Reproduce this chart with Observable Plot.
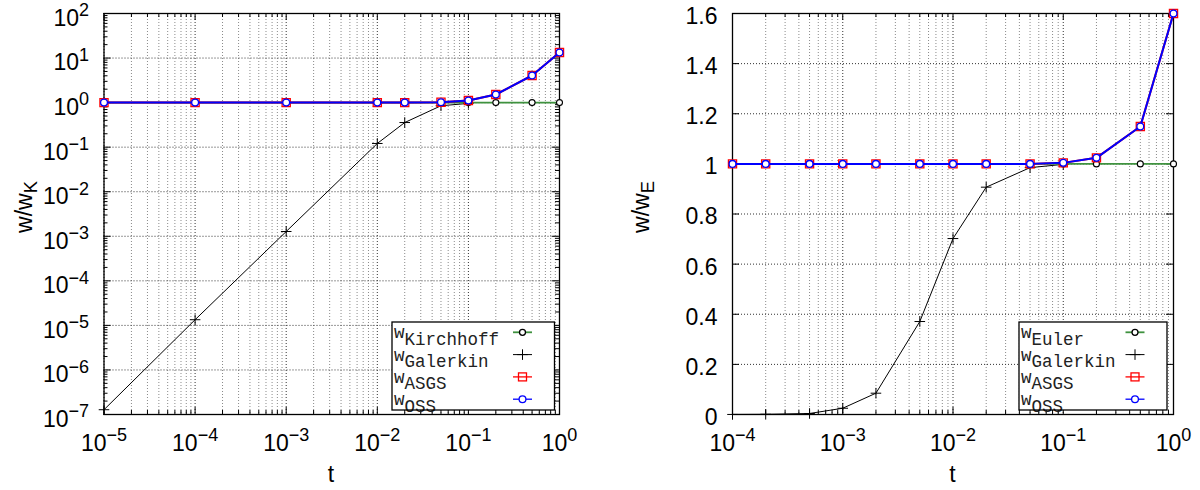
<!DOCTYPE html>
<html><head><meta charset="utf-8">
<script src="https://cdn.jsdelivr.net/npm/d3@7"></script>
<script src="https://cdn.jsdelivr.net/npm/@observablehq/plot@0.6"></script>
<style>
body{margin:0;background:#fff;}
#wrap{position:relative;width:1200px;height:490px;overflow:hidden;background:#fff;font-family:"Liberation Sans",Arial,sans-serif;color:#000;}
.panel{position:absolute;top:0;}
.ylab{position:absolute;font-size:23px;transform:translate(-50%,-50%) rotate(-90deg);white-space:nowrap;line-height:1;}
.xlab{position:absolute;font-size:23px;transform:translate(-50%,-50%);line-height:1;}
.ylab sub{font-size:0.8em;vertical-align:-0.3em;line-height:0;}
</style></head><body><div id="wrap"></div>
<script>
// ---------- data: left panel (w / w_K) ----------
const tLeft = [1e-5, 1e-4, 1e-3, 1e-2, 2e-2, 5e-2, 1e-1, 2e-1, 5e-1, 1];
const wKirchhoff = [1, 1, 1, 1, 1, 1, 1, 1, 1, 1];
const tGalerkinLeft = [1e-5, 1e-4, 1e-3, 1e-2, 2e-2, 5e-2, 1e-1];
const wGalerkinLeft = [1.28e-7, 1.34e-5, 1.28e-3, 0.121, 0.357, 0.85, 0.96];
const wASGSLeft = [1, 1, 1, 1, 1, 1.02, 1.11, 1.52, 4.06, 13.3];
const wOSSLeft = [1, 1, 1, 1, 1, 1.02, 1.11, 1.52, 4.06, 13.3];
const xTicksLeft = [1e-5, 1e-4, 1e-3, 1e-2, 1e-1, 1];
const yTicksLeft = [1e-7, 1e-6, 1e-5, 1e-4, 1e-3, 1e-2, 1e-1, 1, 1e1, 1e2];

// ---------- data: right panel (w / w_E) ----------
const tRight = [1e-4, 2e-4, 5e-4, 1e-3, 2e-3, 5e-3, 1e-2, 2e-2, 5e-2, 1e-1, 2e-1, 5e-1, 1];
const wEuler = [1, 1, 1, 1, 1, 1, 1, 1, 1, 1, 1, 1, 1];
const tGalerkinRight = [1e-4, 2e-4, 5e-4, 1e-3, 2e-3, 5e-3, 1e-2, 2e-2, 5e-2, 1e-1];
const wGalerkinRight = [0.0002, 0.0008, 0.004, 0.025, 0.085, 0.371, 0.702, 0.907, 0.985, 0.998];
const wASGSRight = [1, 1, 1, 1, 1, 1, 1, 1, 1, 1.004, 1.024, 1.149, 1.6];
const wOSSRight = [1, 1, 1, 1, 1, 1, 1, 1, 1, 1.004, 1.024, 1.149, 1.6];
const xTicksRight = [1e-4, 1e-3, 1e-2, 1e-1, 1];
const yTicksRight = [0, 0.2, 0.4, 0.6, 0.8, 1, 1.2, 1.4, 1.6];

const namesLeft = ["Kirchhoff", "Galerkin", "ASGS", "OSS"];
const namesRight = ["Euler", "Galerkin", "ASGS", "OSS"];

const GREEN = "#3f923f", RED = "#ff0000", BLUE = "#0000ff";
const W = 600, H = 490, MT = 13, MB = 76;
const FH = H - MT - MB;

function minorLog(majors) {
  const out = [];
  for (let i = 0; i < majors.length - 1; i++)
    for (let k = 2; k <= 9; k++) out.push(k * majors[i]);
  return out;
}
const rows = (ts, ws) => ts.map((t, i) => ({t, w: ws[i]}));
const powFmt = d => "10^" + Math.round(Math.log10(d));
const linFmt = d => String(Math.round(d * 10) / 10);

function ticks(xMaj, xMin, yMaj, yMin, FW) {
  const s = {stroke: "black", strokeWidth: 1};
  const out = [
    Plot.ruleX(xMaj, {x: d => d, insetTop: FH - 7, ...s}),
    Plot.ruleX(xMaj, {x: d => d, insetBottom: FH - 7, ...s}),
    Plot.ruleX(xMin, {x: d => d, insetTop: FH - 4, ...s}),
    Plot.ruleX(xMin, {x: d => d, insetBottom: FH - 4, ...s}),
    Plot.ruleY(yMaj, {y: d => d, insetRight: FW - 7, ...s}),
    Plot.ruleY(yMaj, {y: d => d, insetLeft: FW - 7, ...s})
  ];
  if (yMin) out.push(
    Plot.ruleY(yMin, {y: d => d, insetRight: FW - 4, ...s}),
    Plot.ruleY(yMin, {y: d => d, insetLeft: FW - 4, ...s})
  );
  return out;
}

function series(ref, gal, asgs, oss) {
  return [
    Plot.line(gal, {x: "t", y: "w", stroke: "black", strokeWidth: 1}),
    Plot.dot(gal, {x: "t", y: "w", symbol: "plus", r: 3.5, stroke: "black", fill: "none", strokeWidth: 1}),
    Plot.line(ref, {x: "t", y: "w", stroke: GREEN, strokeWidth: 1.8}),
    Plot.dot(ref, {x: "t", y: "w", symbol: "circle", r: 3, stroke: "black", fill: "white", strokeWidth: 1.1}),
    Plot.line(asgs, {x: "t", y: "w", stroke: RED, strokeWidth: 2}),
    Plot.dot(asgs, {x: "t", y: "w", symbol: "square", r: 4.6, stroke: RED, fill: "none", strokeWidth: 1.3}),
    Plot.line(oss, {x: "t", y: "w", stroke: BLUE, strokeWidth: 2}),
    Plot.dot(oss, {x: "t", y: "w", symbol: "circle", r: 3.4, stroke: BLUE, fill: "white", strokeWidth: 1.3})
  ];
}

const gridStyleMinor = {stroke: "#8a8a8a", strokeOpacity: 1, strokeWidth: 1, strokeDasharray: "1,2"};
const gridStyleMajor = {stroke: "#333", strokeOpacity: 1, strokeWidth: 1, strokeDasharray: "1,2"};
const style = {fontFamily: "'Liberation Sans', Arial, sans-serif", fontSize: "23px", background: "transparent", overflow: "visible", color: "black"};

// ---------- left panel ----------
const xMinL = minorLog(xTicksLeft), yMinL = minorLog(yTicksLeft);
const FWL = W - 103.5 - 41;
const left = Plot.plot({
  width: W, height: H, marginLeft: 103.5, marginRight: 41, marginTop: MT, marginBottom: MB,
  x: {type: "log", domain: [1e-5, 1]},
  y: {type: "log", domain: [1e-7, 1e2]},
  style,
  marks: [
    Plot.gridX(xMinL, gridStyleMinor),
    Plot.gridX(xTicksLeft, gridStyleMajor),
    Plot.gridY(yTicksLeft, gridStyleMajor),
    ...ticks(xTicksLeft, xMinL, yTicksLeft, yMinL, FWL),
    Plot.frame({stroke: "black", strokeWidth: 1.3}),
    Plot.axisX(xTicksLeft, {tickSize: 0, tickPadding: 20, tickFormat: powFmt, label: null}),
    Plot.axisY(yTicksLeft, {tickSize: 0, tickPadding: 15, tickFormat: powFmt, label: null, dy: 5}),
    ...series(rows(tLeft, wKirchhoff), rows(tGalerkinLeft, wGalerkinLeft), rows(tLeft, wASGSLeft), rows(tLeft, wOSSLeft))
  ]
});

// ---------- right panel ----------
const xMinR = minorLog(xTicksRight);
const FWR = W - 132 - 27;
const right = Plot.plot({
  width: W, height: H, marginLeft: 132, marginRight: 27, marginTop: MT, marginBottom: MB,
  x: {type: "log", domain: [1e-4, 1]},
  y: {type: "linear", domain: [0, 1.6]},
  style,
  marks: [
    Plot.gridX(xMinR, gridStyleMinor),
    Plot.gridX(xTicksRight, gridStyleMajor),
    Plot.gridY(yTicksRight, gridStyleMajor),
    ...ticks(xTicksRight, xMinR, yTicksRight, null, FWR),
    Plot.frame({stroke: "black", strokeWidth: 1.3}),
    Plot.axisX(xTicksRight, {tickSize: 0, tickPadding: 20, tickFormat: powFmt, label: null}),
    Plot.axisY(yTicksRight, {tickSize: 0, tickPadding: 15, tickFormat: linFmt, label: null, dy: 3}),
    ...series(rows(tRight, wEuler), rows(tGalerkinRight, wGalerkinRight), rows(tRight, wASGSRight), rows(tRight, wOSSRight))
  ]
});

// superscripts for 10^n tick labels
const NS = "http://www.w3.org/2000/svg";
for (const svg of [left, right]) {
  for (const t of svg.querySelectorAll("text")) {
    const m = /^10\^(-?\d+)$/.exec(t.textContent);
    if (!m) continue;
    t.textContent = "10";
    const s = document.createElementNS(NS, "tspan");
    s.setAttribute("dy", "-9.5");
    s.setAttribute("font-size", "18");
    s.textContent = m[1].replace("-", "\u2212");
    t.appendChild(s);
  }
}

const wrap = document.getElementById("wrap");
left.classList.add("panel"); left.style.left = "0px";
right.classList.add("panel"); right.style.left = "600px";
wrap.appendChild(left); wrap.appendChild(right);

// axis titles
function addLabel(cls, html, x, y) {
  const d = document.createElement("div");
  d.className = cls; d.innerHTML = html;
  d.style.left = x + "px"; d.style.top = y + "px";
  wrap.appendChild(d);
}
addLabel("xlab", "t", 331, 474);
addLabel("xlab", "t", 952.5, 474);
addLabel("ylab", "w/w<sub>K</sub>", 24, 207);
addLabel("ylab", "w/w<sub>E</sub>", 641, 207);

// legends (overlay)
const ov = document.createElementNS(NS, "svg");
ov.setAttribute("width", 1200); ov.setAttribute("height", 490);
ov.style.position = "absolute"; ov.style.left = "0"; ov.style.top = "0"; ov.style.pointerEvents = "none";
wrap.appendChild(ov);
function el(tag, attrs, parent) {
  const e = document.createElementNS(NS, tag);
  for (const k in attrs) e.setAttribute(k, attrs[k]);
  (parent || ov).appendChild(e);
  return e;
}
function legend(x0, y0, w, h, names) {
  el("rect", {x: x0, y: y0, width: w, height: h, fill: "white"});
  const styles = [
    {line: GREEN, lw: 1.8, mark: "circle", ms: "black", r: 3},
    {line: "black", lw: 1, mark: "plus", ms: "black", r: 5.3},
    {line: RED, lw: 1.3, mark: "square", ms: RED, r: 4},
    {line: BLUE, lw: 1.3, mark: "circle", ms: BLUE, r: 3.4}
  ];
  names.forEach((name, i) => {
    const my = y0 + 10.3 + i * 22.3;
    const t = el("text", {x: x0 + 2, y: my + 6, "font-family": "'Liberation Mono', monospace", "font-size": 17.5, fill: "#222"});
    t.appendChild(document.createTextNode("w"));
    const s = el("tspan", {dy: 6.5}, t);
    s.textContent = name;
    const st = styles[i];
    const xm = x0 + w - 32;
    el("line", {x1: xm - 9.5, x2: xm + 9.5, y1: my, y2: my, stroke: st.line, "stroke-width": st.lw});
    if (st.mark === "circle") el("circle", {cx: xm, cy: my, r: st.r, fill: "white", stroke: st.ms, "stroke-width": 1.3});
    else if (st.mark === "square") el("rect", {x: xm - st.r, y: my - st.r, width: 2 * st.r, height: 2 * st.r, fill: "none", stroke: st.ms, "stroke-width": 1.3});
    else el("path", {d: `M${xm - st.r},${my}H${xm + st.r}M${xm},${my - st.r}V${my + st.r}`, stroke: st.ms, "stroke-width": 1});
  });
  el("rect", {x: x0, y: y0, width: w, height: h, fill: "none", stroke: "black", "stroke-width": 1.3});
}
legend(392, 322, 162.5, 88, namesLeft);
legend(1019, 322, 148, 88, namesRight);
</script></body></html>
